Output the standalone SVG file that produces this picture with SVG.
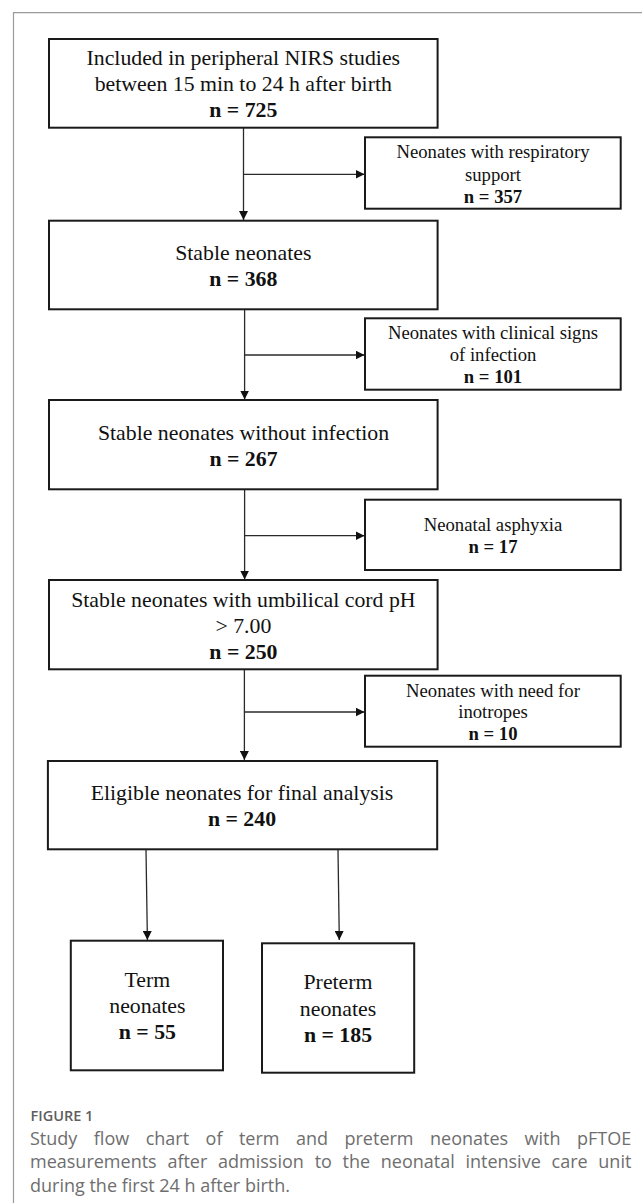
<svg xmlns="http://www.w3.org/2000/svg" width="642" height="1203" viewBox="0 0 642 1203">
<defs>
<style>
.box{fill:#fff;stroke:#1a1a1a;stroke-width:2}
.m{font-family:"Liberation Serif","Times New Roman",serif;font-size:21.8px;fill:#111;text-anchor:middle}
.s{font-family:"Liberation Serif","Times New Roman",serif;font-size:18.7px;fill:#111;text-anchor:middle}
.b{font-weight:bold}
.con{fill:none;stroke:#2a2a2a;stroke-width:1.3}
.cap{font-family:"Open Sans","Noto Sans",sans-serif;font-size:18px;fill:#6e6e6e}
.fig{font-family:"Open Sans","Noto Sans",sans-serif;font-size:14.5px;font-weight:600;fill:#5e5e5e}
</style>
<marker id="ah" viewBox="0 0 10 10" refX="10" refY="5" markerWidth="9" markerHeight="9" markerUnits="userSpaceOnUse" orient="auto">
<path d="M0,0 L10,5 L0,10 z" fill="#111"/>
</marker>
</defs>
<rect width="642" height="1203" fill="#fff"/>
<path d="M13.5,1203 V12.7 H642" fill="none" stroke="#9a9a9a" stroke-width="1.2"/>

<g id="connectors">
<path class="con" d="M243.5,128 V220" marker-end="url(#ah)"/>
<path class="con" d="M243.5,174.3 H364.5" marker-end="url(#ah)"/>
<path class="con" d="M244.6,309.5 V399.5" marker-end="url(#ah)"/>
<path class="con" d="M244.6,355 H364.5" marker-end="url(#ah)"/>
<path class="con" d="M244.6,489.5 V579.5" marker-end="url(#ah)"/>
<path class="con" d="M244.6,535.7 H364.5" marker-end="url(#ah)"/>
<path class="con" d="M244.4,669.5 V760" marker-end="url(#ah)"/>
<path class="con" d="M244.4,712 H364.5" marker-end="url(#ah)"/>
<path class="con" d="M146,850 L147.4,940" marker-end="url(#ah)"/>
<path class="con" d="M338,850 L339.3,940" marker-end="url(#ah)"/>
</g>

<g id="n-included">
<rect class="box" x="49" y="39" width="388.6" height="88.7"/>
<text class="m" x="243.3" y="65">Included in peripheral NIRS studies</text>
<text class="m" x="243.3" y="91">between 15 min to 24 h after birth</text>
<text class="m b" x="243.3" y="117">n = 725</text>
</g>

<g id="n-resp">
<rect class="box" x="365" y="137.3" width="255.7" height="71.4"/>
<text class="s" x="493" y="158.3">Neonates with respiratory</text>
<text class="s" x="493" y="180.5">support</text>
<text class="s b" x="493" y="202.7">n = 357</text>
</g>

<g id="n-stable">
<rect class="box" x="49" y="220.7" width="388.6" height="88.6"/>
<text class="m" x="243.3" y="260">Stable neonates</text>
<text class="m b" x="243.3" y="286">n = 368</text>
</g>

<g id="n-infection">
<rect class="box" x="365" y="318.3" width="255.7" height="71.4"/>
<text class="s" x="493" y="339.3">Neonates with clinical signs</text>
<text class="s" x="493" y="361.3">of infection</text>
<text class="s b" x="493" y="383.3">n = 101</text>
</g>

<g id="n-noinf">
<rect class="box" x="49" y="400" width="388.6" height="89.3"/>
<text class="m" x="243.5" y="440">Stable neonates without infection</text>
<text class="m b" x="243.5" y="466">n = 267</text>
</g>

<g id="n-asph">
<rect class="box" x="365" y="499.7" width="255.7" height="70.3"/>
<text class="s" x="493" y="530.7">Neonatal asphyxia</text>
<text class="s b" x="493" y="553.3">n = 17</text>
</g>

<g id="n-ph">
<rect class="box" x="49" y="580" width="388.6" height="89.3"/>
<text class="m" x="243.4" y="606.7">Stable neonates with umbilical cord pH</text>
<text class="m" x="243.4" y="632.7">&gt; 7.00</text>
<text class="m b" x="243.4" y="659.3">n = 250</text>
</g>

<g id="n-inotropes">
<rect class="box" x="365" y="675.7" width="255.7" height="71"/>
<text class="s" x="493" y="696.5">Neonates with need for</text>
<text class="s" x="493" y="718.3">inotropes</text>
<text class="s b" x="493" y="740.3">n = 10</text>
</g>

<g id="n-eligible">
<rect class="box" x="47.9" y="761" width="389.3" height="88.3"/>
<text class="m" x="242" y="800">Eligible neonates for final analysis</text>
<text class="m b" x="242" y="826">n = 240</text>
</g>

<g id="n-term">
<rect class="box" x="70.8" y="940.7" width="152.2" height="129.6"/>
<text class="m" x="147.4" y="986.7">Term</text>
<text class="m" x="147.4" y="1013.3">neonates</text>
<text class="m b" x="147.4" y="1039.3">n = 55</text>
</g>

<g id="n-preterm">
<rect class="box" x="262" y="943.3" width="152.2" height="129.4"/>
<text class="m" x="338" y="989.3">Preterm</text>
<text class="m" x="338" y="1016">neonates</text>
<text class="m b" x="338" y="1042">n = 185</text>
</g>

<g id="caption">
<text class="fig" x="30.5" y="1121">FIGURE 1</text>
<text class="cap" y="1145"><tspan x="30">Study</tspan><tspan x="93.8">flow</tspan><tspan x="145.7">chart</tspan><tspan x="205.6">of</tspan><tspan x="238.9">term</tspan><tspan x="296">and</tspan><tspan x="344.5">preterm</tspan><tspan x="430">neonates</tspan><tspan x="524.5">with</tspan><tspan x="577">pFTOE</tspan></text>
<text class="cap" y="1168.3"><tspan x="30">measurements</tspan><tspan x="167.4">after</tspan><tspan x="218">admission</tspan><tspan x="314.7">to</tspan><tspan x="342.6">the</tspan><tspan x="380.8">neonatal</tspan><tspan x="465.4">intensive</tspan><tspan x="551.6">care</tspan><tspan x="598.3">unit</tspan></text>
<text class="cap" x="30" y="1191.7">during the first 24 h after birth.</text>
</g>
</svg>
